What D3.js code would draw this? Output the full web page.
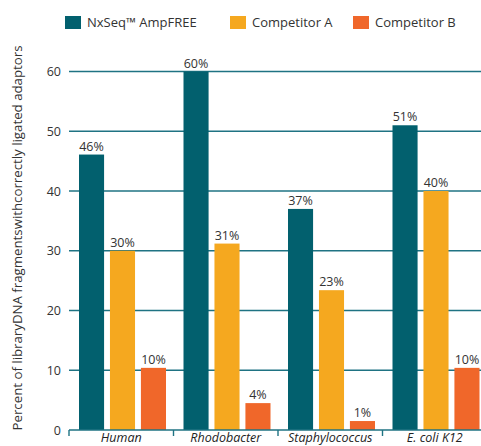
<!DOCTYPE html>
<html><head><meta charset="utf-8">
<script src="https://cdn.jsdelivr.net/npm/d3@7"></script>
<style>body{margin:0;background:#fff}svg{display:block}</style>
</head><body>
<script>
const categories = ["Human", "Rhodobacter", "Staphylococcus", "E. coli K12"];
const seriesNames = ["NxSeq\u2122 AmpFREE", "Competitor A", "Competitor B"];
const ampfree = [46.1, 60, 37, 51];
const compA = [30, 31.2, 23.4, 40];
const compB = [10.4, 4.5, 1.5, 10.4];
const labelsAmp = ["46%", "60%", "37%", "51%"];
const labelsA = ["30%", "31%", "23%", "40%"];
const labelsB = ["10%", "4%", "1%", "10%"];
const yTicks = [0, 10, 20, 30, 40, 50, 60];
const colors = ["#02606e", "#f5a81f", "#f0672a"];

const W = 481, H = 446;
const svg = d3.select("body").append("svg").attr("width", W).attr("height", H);
const font = "'Open Sans', 'DejaVu Sans', sans-serif";

const y = d3.scaleLinear().domain([0, 60]).range([430, 71.5]);
const x0 = d3.scaleBand().domain(categories).range([69, 487]);
const x1 = d3.scaleBand().domain(seriesNames).range([10, 97]).paddingInner(0.19).paddingOuter(0);

// gridlines
svg.append("g").selectAll("line").data(yTicks.filter(d => d > 0)).join("line")
  .attr("x1", 69).attr("x2", W).attr("y1", d => y(d)).attr("y2", d => y(d))
  .attr("stroke", "#1f7383").attr("stroke-width", 1.4);

// y tick labels
svg.append("g").selectAll("text").data(yTicks).join("text")
  .attr("x", 61).attr("y", d => y(d) + 4.5).attr("text-anchor", "end")
  .attr("font-family", font).attr("font-size", 12.5).attr("fill", "#333")
  .text(d => d);

// bars
const data = categories.map((c, i) => ({
  cat: c,
  vals: [
    {s: seriesNames[0], v: ampfree[i], l: labelsAmp[i], c: colors[0]},
    {s: seriesNames[1], v: compA[i], l: labelsA[i], c: colors[1]},
    {s: seriesNames[2], v: compB[i], l: labelsB[i], c: colors[2]}
  ]
}));
const g = svg.append("g").selectAll("g").data(data).join("g")
  .attr("transform", d => `translate(${x0(d.cat)},0)`);
g.selectAll("rect").data(d => d.vals).join("rect")
  .attr("x", d => x1(d.s)).attr("width", x1.bandwidth())
  .attr("y", d => y(d.v)).attr("height", d => y(0) - y(d.v))
  .attr("fill", d => d.c);
g.selectAll("text").data(d => d.vals).join("text")
  .attr("x", d => x1(d.s) + x1.bandwidth() / 2).attr("y", d => y(d.v) - 4)
  .attr("text-anchor", "middle").attr("font-family", font).attr("font-size", 12.5)
  .attr("fill", "#333").text(d => d.l);

// baseline and ticks
svg.append("line").attr("x1", 69).attr("x2", W).attr("y1", y(0)).attr("y2", y(0))
  .attr("stroke", "#1f7383").attr("stroke-width", 1.4);
svg.append("g").selectAll("line").data(categories).join("line")
  .attr("x1", d => x0(d)).attr("x2", d => x0(d))
  .attr("y1", y(0)).attr("y2", y(0) + 6)
  .attr("stroke", "#1f7383").attr("stroke-width", 1.4);

// category labels
svg.append("g").selectAll("text").data(categories).join("text")
  .attr("x", d => x0(d) + x0.bandwidth() / 2).attr("y", 441.5)
  .attr("text-anchor", "middle").attr("font-family", font).attr("font-size", 12.5)
  .attr("font-style", "italic").attr("fill", "#222").text(d => d);

// y axis title
svg.append("text")
  .attr("transform", "translate(22,238) rotate(-90)")
  .attr("text-anchor", "middle").attr("font-family", font).attr("font-size", 13)
  .attr("fill", "#333")
  .attr("textLength", 385).attr("lengthAdjust", "spacingAndGlyphs")
  .text("Percent of libraryDNA fragmentswithcorrectly ligated adaptors");

// legend
const legX = [65, 230, 353];
const leg = svg.append("g").selectAll("g").data(seriesNames).join("g")
  .attr("transform", (d, i) => `translate(${legX[i]},16)`);
leg.append("rect").attr("width", 16).attr("height", 13).attr("fill", (d, i) => colors[i]);
leg.append("text").attr("x", 22).attr("y", 11).attr("font-family", font)
  .attr("font-size", 13).attr("fill", "#333").text(d => d);
</script>
</body></html>
